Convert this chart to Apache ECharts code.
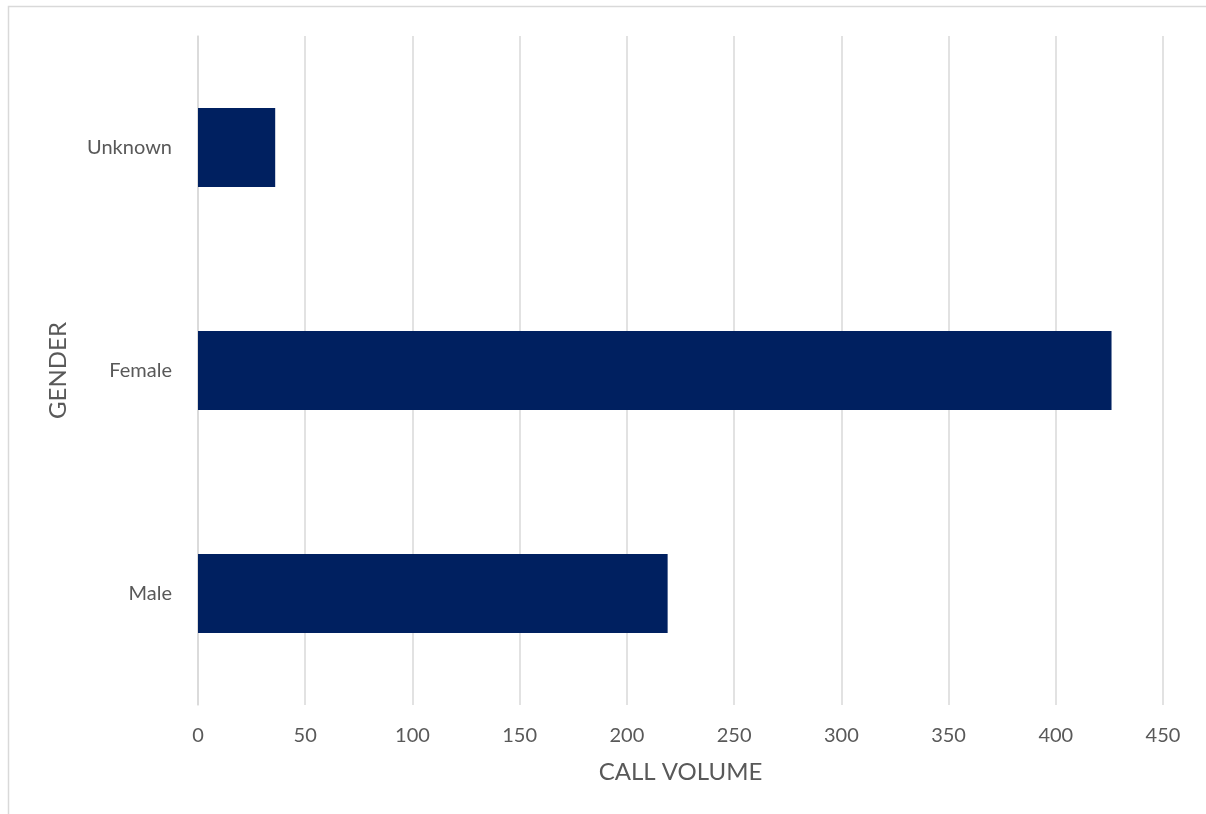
<!DOCTYPE html>
<html><head><meta charset="utf-8">
<script src="https://cdn.jsdelivr.net/npm/echarts@6/dist/echarts.min.js"></script>
<style>html,body{margin:0;padding:0;background:#fff}#c{width:1206px;height:814px}</style>
</head><body><div id="c"></div>
<script>
const categories = ['Male', 'Female', 'Unknown'];
const callVolume = [219, 426, 36];
const xTicks = [0, 50, 100, 150, 200, 250, 300, 350, 400, 450];

const chart = echarts.init(document.getElementById('c'), null, {renderer: 'canvas'});
const font = 'Lato, "Open Sans", sans-serif';
chart.setOption({
  animation: false,
  graphic: [{type: 'rect', shape: {x: 8.5, y: 6.5, width: 1210, height: 820}, style: {fill: null, stroke: '#d9d9d9', lineWidth: 1.5}, silent: true}],
  grid: {left: 198, right: 43, top: 36, bottom: 109, containLabel: false},
  xAxis: {
    type: 'value', min: xTicks[0], max: xTicks[xTicks.length - 1], interval: 50,
    name: 'CALL VOLUME', nameLocation: 'middle', nameGap: 55,
    nameTextStyle: {fontFamily: font, fontSize: 24, color: '#595959'},
    axisLine: {show: false}, axisTick: {show: false},
    axisLabel: {fontFamily: font, fontSize: 20, color: '#595959', margin: 21},
    splitLine: {lineStyle: {color: '#d9d9d9', width: 1.5}}
  },
  yAxis: {
    type: 'category', data: categories,
    name: 'GENDER', nameLocation: 'middle', nameGap: 128, nameRotate: 90,
    nameTextStyle: {fontFamily: font, fontSize: 24, color: '#595959'},
    axisLine: {show: true, lineStyle: {color: '#d9d9d9', width: 1.5}}, axisTick: {show: false},
    axisLabel: {fontFamily: font, fontSize: 20, color: '#595959', margin: 26}
  },
  series: [{
    type: 'bar', data: callVolume, barWidth: '35.5%',
    itemStyle: {color: '#002060'}
  }]
});
</script></body></html>
